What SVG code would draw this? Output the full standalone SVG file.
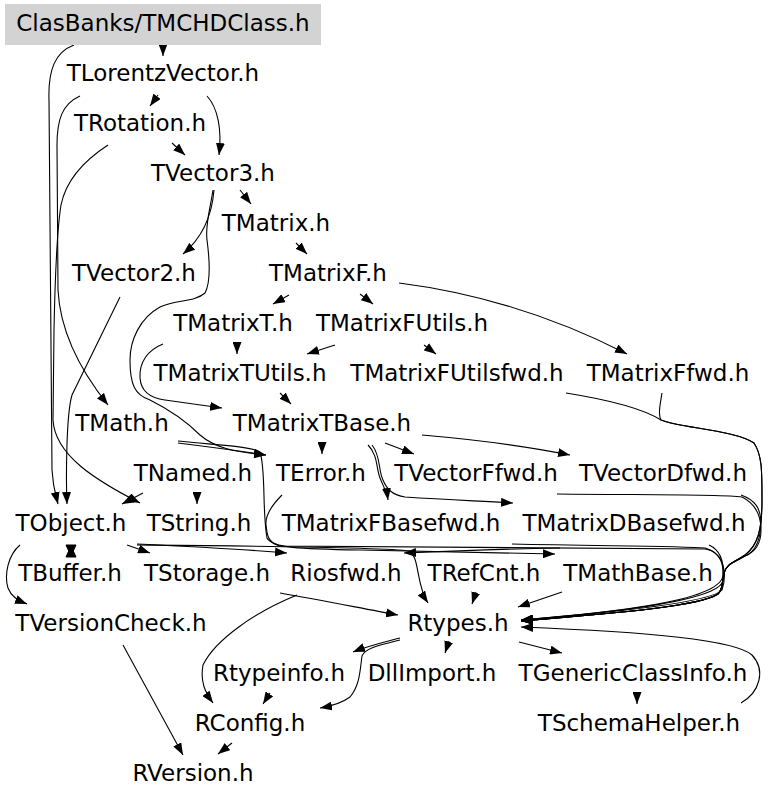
<svg xmlns="http://www.w3.org/2000/svg" width="768" height="799" viewBox="0 0 768 799">
<style>
.n text{font-family:"DejaVu Sans","Liberation Sans",sans-serif;font-size:23px;fill:#000;text-anchor:middle}
.e path{fill:none;stroke:#000;stroke-width:1.1;marker-end:url(#ah)}
.e polygon{fill:#000;stroke:#000;stroke-width:1}
</style>
<defs>
<marker id="ah" viewBox="0 0 12 9" refX="12" refY="4.5" markerWidth="12" markerHeight="9" markerUnits="userSpaceOnUse" orient="auto">
<path d="M0,0 L12,4.5 L0,9 z" fill="#000"/>
</marker>
</defs>
<rect width="768" height="799" fill="#fff"/>
<g class="e" id="connectors">
<path d="M163,44 L163,56"/>
<path d="M74,45 C55,52 48,70 49,100 L52,470 C53,488 56,496 58,504"/>
<path d="M158,95 L150,106"/>
<path d="M207,96 C218,108 222,130 219,155"/>
<path d="M80,96 C62,104 57,120 57,145 L58,290 C60,330 80,370 108,405"/>
<path d="M172,143 L185,155"/>
<path d="M108,145 C85,160 66,180 61,205 C57,230 55,280 54,330 L53,420 C55,455 95,480 140,503"/>
<path d="M240,190 L251,204"/>
<path d="M214,190 C212,215 202,238 183,254"/>
<path d="M213,190 C210,210 205,225 207,240 C209,255 212,280 205,293 C195,302 175,300 160,307 C140,318 130,340 130,360 C130,385 135,395 150,400 C170,410 185,420 200,435 C215,448 235,452 266,455"/>
<path d="M120,297 L72,395 C66,415 66,480 67,504"/>
<path d="M296,243 L307,254"/>
<path d="M289,295 L273,304"/>
<path d="M360,294 L373,304"/>
<path d="M399,283 C470,292 545,312 627,354"/>
<path d="M237,343 L237,354"/>
<path d="M335,345 L307,354"/>
<path d="M424,345 L436,354"/>
<path d="M163,344 C148,350 139,362 140,378 C141,392 150,398 165,400 L222,408"/>
<path d="M280,393 L291,404"/>
<path d="M322,443 L322,454"/>
<path d="M385,443 L414,454"/>
<path d="M422,435 C480,440 530,447 570,455"/>
<path d="M368,445 C378,455 376,468 380,478 C384,488 387,492 388,500"/>
<path d="M372,445 C381,456 378,470 383,480 C387,490 393,495 405,497 C450,500 480,501 513,503"/>
<path d="M178,443 C210,447 240,451 266,455"/>
<path d="M178,441 C215,445 250,446 260,452 C266,470 262,510 267,538 C272,548 300,549 360,550 L555,554"/>
<path d="M143,493 L122,504"/>
<path d="M197,493 L197,504"/>
<polygon points="66,545 76,545 71,556"/>
<polygon points="66,557 76,557 71,546"/>
<path d="M127,545 L150,553"/>
<path d="M137,544 C180,546 240,549 287,553"/>
<path d="M20,545 C8,555 4,575 8,588 C11,596 17,600 27,604"/>
<path d="M137,545 C250,546 380,547 410,551 C420,560 416,585 428,603"/>
<path d="M282,495 C272,505 265,515 266,525 C267,535 268,543 280,546 C400,547 600,548 705,549 C725,552 727,575 722,590 C712,602 620,612 521,620"/>
<path d="M560,548 C500,549 450,551 404,553"/>
<path d="M280,593 C320,600 360,608 398,615"/>
<path d="M297,595 C255,612 215,640 203,665 C200,682 205,692 213,703"/>
<path d="M476,592 L472,604"/>
<path d="M562,592 L518,607"/>
<path d="M400,638 C385,642 368,646 353,652"/>
<path d="M400,640 C380,645 365,648 362,656 C360,670 360,685 350,697 C342,703 332,706 320,708"/>
<path d="M449,641 L445,653"/>
<path d="M519,642 L562,653"/>
<path d="M637,692 L637,704"/>
<path d="M741,703 C760,692 766,670 752,655 C735,640 650,632 521,627"/>
<path d="M270,693 L263,704"/>
<path d="M232,743 L218,754"/>
<path d="M123,645 L183,755"/>
<path d="M566,393 C610,400 645,410 661,420 C680,428 735,430 754,443 C762,455 762,470 762,500 C762,530 758,545 745,555 C735,562 727,563 724,573 C722,585 722,590 718,594 C700,606 620,613 521,621"/>
<path d="M662,393 C660,405 658,415 661,420 C680,428 735,430 754,443 C762,455 762,470 762,500 C762,530 758,545 745,555 C735,562 727,563 724,573 C722,585 722,590 718,594 C700,606 620,613 521,621"/>
<path d="M557,494 C640,495 720,494 742,497 C758,505 761,520 761,530 C761,545 755,552 745,556 C735,562 727,563 724,573 C722,585 722,590 718,594 C700,606 620,613 521,621"/>
<path d="M741,495 C755,500 760,508 761,520 C761,540 755,552 745,556 C735,562 727,563 724,573 C722,585 722,590 718,594 C700,606 620,613 521,621"/>
<path d="M512,544 C600,546 680,546 705,548 C722,553 724,565 723,580 C722,600 620,612 521,620"/>
<path d="M709,545 C720,550 724,560 723,575 C722,600 620,612 521,620"/>
</g>
<g class="n" id="n_ClasBanks"><rect x="5" y="4" width="316" height="41" fill="#d3d3d3"/><text x="163" y="31">ClasBanks/TMCHDClass.h</text></g>
<g class="n" id="n_TLorentzVector"><text x="163" y="81">TLorentzVector.h</text></g>
<g class="n" id="n_TRotation"><text x="140" y="131">TRotation.h</text></g>
<g class="n" id="n_TVector3"><text x="213" y="181">TVector3.h</text></g>
<g class="n" id="n_TMatrix"><text x="276" y="231">TMatrix.h</text></g>
<g class="n" id="n_TVector2"><text x="134" y="281">TVector2.h</text></g>
<g class="n" id="n_TMatrixF"><text x="328" y="281">TMatrixF.h</text></g>
<g class="n" id="n_TMatrixT"><text x="233" y="331">TMatrixT.h</text></g>
<g class="n" id="n_TMatrixFUtils"><text x="402" y="331">TMatrixFUtils.h</text></g>
<g class="n" id="n_TMatrixTUtils"><text x="240" y="381">TMatrixTUtils.h</text></g>
<g class="n" id="n_TMatrixFUtilsfwd"><text x="457" y="381">TMatrixFUtilsfwd.h</text></g>
<g class="n" id="n_TMatrixFfwd"><text x="668" y="381">TMatrixFfwd.h</text></g>
<g class="n" id="n_TMath"><text x="122" y="431">TMath.h</text></g>
<g class="n" id="n_TMatrixTBase"><text x="322" y="431">TMatrixTBase.h</text></g>
<g class="n" id="n_TNamed"><text x="193" y="481">TNamed.h</text></g>
<g class="n" id="n_TError"><text x="321" y="481">TError.h</text></g>
<g class="n" id="n_TVectorFfwd"><text x="476" y="481">TVectorFfwd.h</text></g>
<g class="n" id="n_TVectorDfwd"><text x="663" y="481">TVectorDfwd.h</text></g>
<g class="n" id="n_TObject"><text x="71" y="531">TObject.h</text></g>
<g class="n" id="n_TString"><text x="199" y="531">TString.h</text></g>
<g class="n" id="n_TMatrixFBasefwd"><text x="391" y="531">TMatrixFBasefwd.h</text></g>
<g class="n" id="n_TMatrixDBasefwd"><text x="634" y="531">TMatrixDBasefwd.h</text></g>
<g class="n" id="n_TBuffer"><text x="70" y="581">TBuffer.h</text></g>
<g class="n" id="n_TStorage"><text x="207" y="581">TStorage.h</text></g>
<g class="n" id="n_Riosfwd"><text x="346" y="581">Riosfwd.h</text></g>
<g class="n" id="n_TRefCnt"><text x="484" y="581">TRefCnt.h</text></g>
<g class="n" id="n_TMathBase"><text x="638" y="581">TMathBase.h</text></g>
<g class="n" id="n_TVersionCheck"><text x="111" y="631">TVersionCheck.h</text></g>
<g class="n" id="n_Rtypes"><text x="458" y="631">Rtypes.h</text></g>
<g class="n" id="n_Rtypeinfo"><text x="279" y="681">Rtypeinfo.h</text></g>
<g class="n" id="n_DllImport"><text x="432" y="681">DllImport.h</text></g>
<g class="n" id="n_TGenericClassInfo"><text x="633" y="681">TGenericClassInfo.h</text></g>
<g class="n" id="n_RConfig"><text x="250" y="731">RConfig.h</text></g>
<g class="n" id="n_TSchemaHelper"><text x="639" y="731">TSchemaHelper.h</text></g>
<g class="n" id="n_RVersion"><text x="193" y="781">RVersion.h</text></g>
</svg>
